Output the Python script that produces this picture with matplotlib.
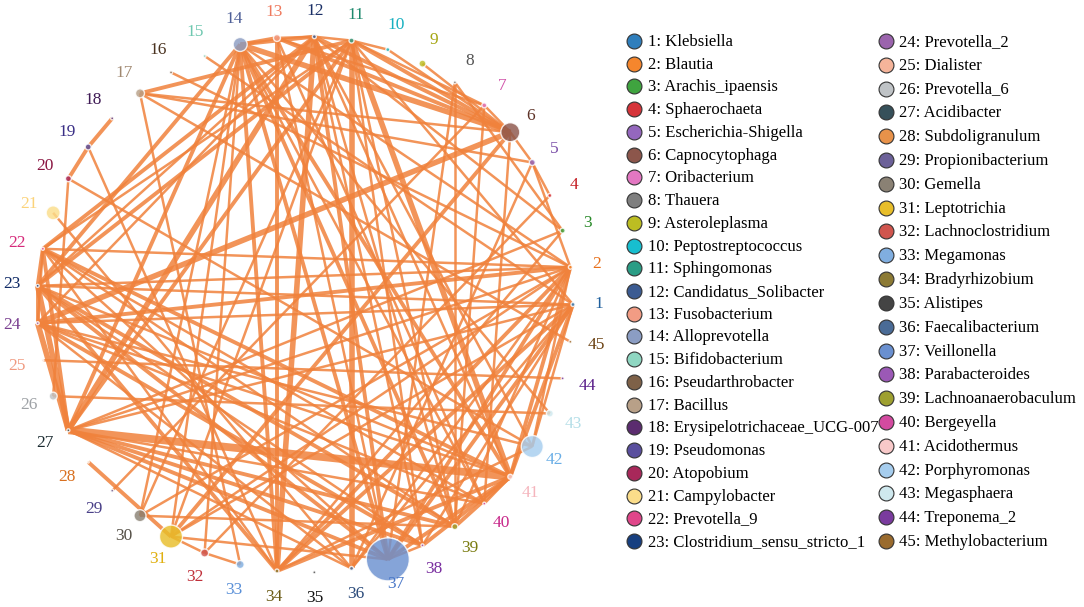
import numpy as np
import matplotlib
matplotlib.use("Agg")
import matplotlib.pyplot as plt

plt.rcParams['font.family'] = ['Liberation Serif', 'DejaVu Serif']

# ---------------- data ----------------
names = ["Klebsiella", "Blautia", "Arachis_ipaensis", "Sphaerochaeta", "Escherichia-Shigella",
         "Capnocytophaga", "Oribacterium", "Thauera", "Asteroleplasma", "Peptostreptococcus",
         "Sphingomonas", "Candidatus_Solibacter", "Fusobacterium", "Alloprevotella", "Bifidobacterium",
         "Pseudarthrobacter", "Bacillus", "Erysipelotrichaceae_UCG-007", "Pseudomonas", "Atopobium",
         "Campylobacter", "Prevotella_9", "Clostridium_sensu_stricto_1", "Prevotella_2", "Dialister",
         "Prevotella_6", "Acidibacter", "Subdoligranulum", "Propionibacterium", "Gemella",
         "Leptotrichia", "Lachnoclostridium", "Megamonas", "Bradyrhizobium", "Alistipes",
         "Faecalibacterium", "Veillonella", "Parabacteroides", "Lachnoanaerobaculum", "Bergeyella",
         "Acidothermus", "Porphyromonas", "Megasphaera", "Treponema_2", "Methylobacterium"]

colors = ["#2f7ebc", "#f5862d", "#3fa43f", "#d6343a", "#9467bd", "#8c564b", "#e377c2", "#7f7f7f",
          "#bcbd22", "#17becf", "#2a9d85", "#3b5b92", "#f29c84", "#8b9dc3", "#8fd7c2", "#7e6148",
          "#b8a088", "#5b2c6f", "#5a4f9e", "#a8285a", "#fbdd8a", "#e0468a", "#173f80", "#9b64ad",
          "#f5b49a", "#bfc3c6", "#36505a", "#e8924a", "#6c6199", "#8a8174", "#e8be2a", "#d0554e",
          "#80aee0", "#8c7a34", "#444444", "#4a6b96", "#6a90d0", "#9b59b6", "#9ea030", "#d34aa0",
          "#f8c9c9", "#a6cdee", "#cfe8ee", "#7a3b9e", "#9a6b2e"]

label_colors = ["#1f5f9c", "#e8701a", "#2a8a2a", "#c41e24", "#7a4fa8", "#5e3328", "#d050a8", "#555555",
                "#a5a612", "#17b0c0", "#1e8a6e", "#1a2f66", "#ef7a5e", "#4f6098", "#6fc8b0", "#4a3320",
                "#a08870", "#3f1a55", "#3a2f86", "#8a1642", "#fbd37a", "#d62a7a", "#0f2a66", "#7a3f90",
                "#f09a80", "#9ea2a6", "#1a2a30", "#d87020", "#4a4088", "#555047", "#e0b010", "#c0303a",
                "#5a90d8", "#6a5a14", "#111111", "#2a4a7a", "#4a78c8", "#7a2fa0", "#7a7c10", "#c8288a",
                "#f5b5bd", "#6aaee6", "#b5dfe8", "#5a1f8a", "#6a4010"]

# relative node size (diameter, px)
node_size = [4, 4, 5, 4, 6, 19, 5, 3, 7, 4, 5, 4, 7, 14, 3, 3, 9, 3, 6, 6, 14, 3, 3, 3, 2,
             8, 3, 2, 3, 12, 23, 8, 8, 4, 3, 4, 43, 3, 6, 3, 5, 22, 7, 3, 3]

# edges: (node a, node b, weight)
edges = [
    (18, 19, 2), (19, 20, 2), (19, 34, 1), (20, 26, 1), (20, 42, 1), (21, 36, 1),
    (22, 12, 2), (22, 11, 1), (23, 11, 2), (23, 12, 1), (23, 14, 2),
    (22, 27, 2), (22, 23, 2), (22, 24, 1), (22, 2, 1), (22, 40, 1), (22, 39, 1), (22, 37, 1),
    (23, 1, 1), (23, 2, 1), (23, 27, 3), (23, 24, 2), (23, 39, 2), (23, 41, 1), (23, 37, 2), (23, 38, 1),
    (24, 27, 3), (24, 6, 3), (24, 38, 2), (24, 40, 1), (24, 36, 1), (24, 42, 1), (24, 1, 1), (24, 2, 2),
    (24, 41, 1),
    (25, 44, 1), (26, 43, 1),
    (27, 41, 4), (27, 12, 3), (27, 38, 2), (27, 39, 2), (27, 37, 2), (27, 2, 1), (27, 3, 1),
    (27, 14, 2), (27, 36, 1), (27, 40, 1), (27, 1, 1),
    (28, 31, 2), (29, 7, 1), (30, 39, 1), (30, 14, 1), (30, 2, 1),
    (31, 32, 1), (31, 6, 2), (31, 14, 1), (31, 37, 1), (31, 2, 1), (31, 1, 1), (31, 11, 1),
    (32, 33, 1), (32, 4, 1), (32, 14, 1), (33, 17, 1),
    (34, 12, 3), (34, 13, 2), (34, 14, 2), (34, 23, 2), (34, 22, 1), (34, 2, 2), (34, 1, 2),
    (34, 41, 2), (34, 3, 1), (34, 42, 1),
    (36, 11, 3), (36, 2, 1), (36, 5, 1), (36, 1, 1),
    (37, 14, 2), (37, 12, 2), (37, 2, 2), (37, 1, 2), (37, 38, 1), (37, 41, 2), (37, 8, 1),
    (37, 13, 1),
    (38, 1, 1), (38, 41, 2), (38, 12, 1),
    (39, 41, 2), (39, 14, 2), (39, 11, 1), (39, 2, 1), (39, 8, 1), (39, 7, 1), (39, 12, 1),
    (40, 6, 1), (40, 41, 1), (40, 13, 1), (40, 14, 1),
    (41, 11, 3), (41, 2, 2), (41, 1, 2), (41, 22, 2), (41, 12, 1), (41, 14, 2),
    (42, 1, 1), (42, 2, 1), (45, 17, 1),
    (2, 5, 1), (3, 8, 1), (3, 12, 1), (4, 5, 1), (5, 6, 1), (5, 17, 1),
    (6, 14, 3), (6, 7, 1), (6, 9, 1), (6, 10, 1), (6, 12, 2), (6, 11, 2), (6, 13, 2),
    (7, 11, 1), (7, 13, 1), (10, 11, 1),
    (11, 12, 1), (11, 17, 2), (11, 30, 1), (11, 38, 1), (11, 1, 1), (11, 27, 2),
    (12, 14, 2), (12, 13, 1), (12, 24, 1), (12, 42, 1), (13, 14, 2),
    (14, 43, 1), (14, 2, 1), (15, 1, 1), (16, 2, 1), (17, 6, 1),
]

# ---------------- figure ----------------
W, H = 1084, 607
fig = plt.figure(figsize=(W / 100, H / 100), dpi=100)
ax = fig.add_axes([0, 0, 1, 1])
ax.set_xlim(0, W)
ax.set_ylim(H, 0)
ax.axis('off')

cx, cy, R, RL = 305, 304.5, 268, 294
n = len(names)
ang = np.deg2rad(np.arange(n) * 360.0 / n)
px = cx + R * np.cos(ang)
py = cy - R * np.sin(ang)

lw_map = {1: 1.8, 2: 2.8, 3: 4.0, 4: 5.6}
for a, b, w in edges:
    ax.plot([px[a - 1], px[b - 1]], [py[a - 1], py[b - 1]], color='#f0823c',
            lw=lw_map[w], alpha=0.85, solid_capstyle='butt', zorder=1)

sizes = [(d * 0.72) ** 2 for d in node_size]
ax.scatter(px, py, s=sizes, c=colors, alpha=0.82, edgecolors='white', linewidths=1.0, zorder=3)

for i in range(n):
    lx = cx + RL * np.cos(ang[i])
    ly = cy - RL * np.sin(ang[i])
    ax.text(lx, ly, str(i + 1), color=label_colors[i], fontsize=12.5, ha='center', va='center', zorder=4)

# legend
col1 = list(range(0, 23))
col2 = list(range(23, 45))
for idx, k in enumerate(col1):
    y = 41 + idx * (541 - 41) / 22
    ax.scatter([634], [y], s=115, c=[colors[k]], edgecolors='#333333', linewidths=0.8, zorder=5)
    ax.text(648, y + 1, f"{k + 1}: {names[k]}", fontsize=12, ha='left', va='center', color='black')
for idx, k in enumerate(col2):
    y = 41 + idx * (541 - 41) / 21
    ax.scatter([886], [y], s=115, c=[colors[k]], edgecolors='#333333', linewidths=0.8, zorder=5)
    ax.text(899, y + 1, f"{k + 1}: {names[k]}", fontsize=12, ha='left', va='center', color='black')

fig.savefig("out.png", dpi=100)
